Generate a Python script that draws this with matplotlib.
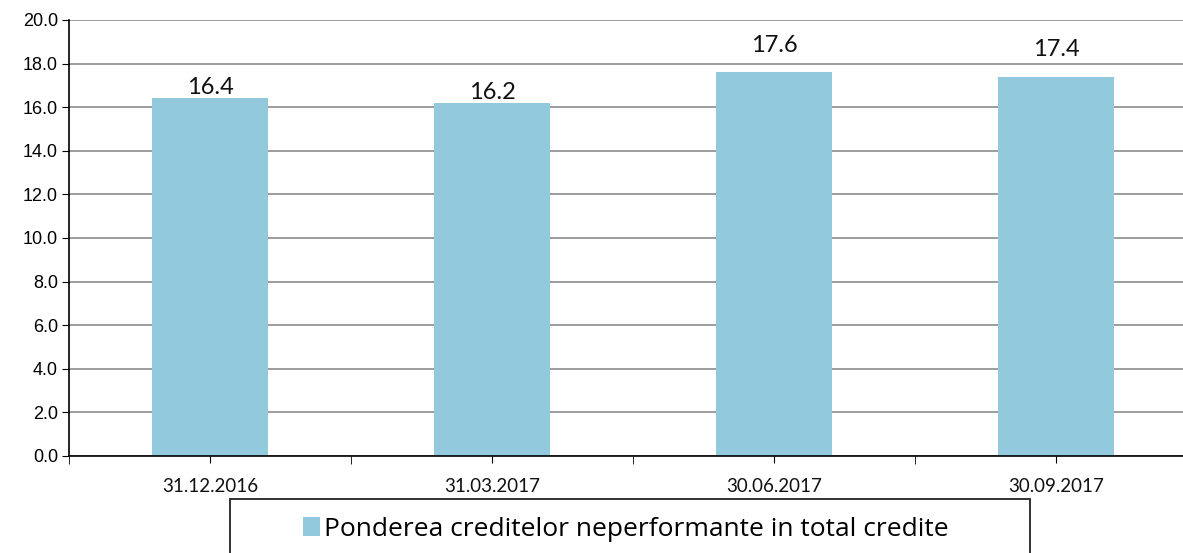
import numpy as np
import matplotlib.pyplot as plt
from matplotlib.patches import Rectangle

dates = ['31.12.2016', '31.03.2017', '30.06.2017', '30.09.2017']
npl_share = [16.4, 16.2, 17.6, 17.4]   # % credite neperformante
label_lift = [0, 0, 12, 12]            # label offset above bar, points

W, H = 1183, 553
fig = plt.figure(figsize=(W/100, H/100), dpi=100)
ax = fig.add_axes([69/W, 97/H, 1128/W, 436/H])

x = np.arange(len(dates))
bars = ax.bar(x, npl_share, width=0.41, color='#92C9DC',
              label='Ponderea creditelor neperformante in total credite', zorder=2)

for xi, v, lift in zip(x, npl_share, label_lift):
    ax.annotate(f'{v:.1f}', (xi, v), xytext=(0, lift), textcoords='offset points',
                ha='center', va='bottom', fontsize=17, family='Lato', color='#111111')

ax.set_xlim(-0.5, len(dates) - 0.5)
ax.set_ylim(0, 20)
ax.set_yticks(np.arange(0, 20.1, 2))
ax.set_yticklabels([f'{t:.1f}' for t in np.arange(0, 20.1, 2)],
                   family='Liberation Sans', fontsize=13)
ax.set_xticks(x)
ax.set_xticklabels(dates, family='Lato', fontsize=13.5, color='#111111')
ax.set_xticks(np.arange(-0.5, len(dates), 1), minor=True)
ax.tick_params(axis='x', which='major', length=5, pad=11)
ax.tick_params(axis='x', which='minor', length=6)
ax.tick_params(axis='y', length=5, pad=3)

ax.grid(axis='y', color='#8c8c8c', linewidth=1.2, zorder=0)
ax.spines['top'].set_visible(False)
ax.spines['right'].set_visible(False)
ax.spines['left'].set_linewidth(1.2)
ax.spines['bottom'].set_linewidth(1.2)

# legend box runs off the bottom edge of the picture
fig.patches.append(Rectangle((230/W, -0.05), 800/W, 0.05 + 54/H, transform=fig.transFigure,
                             fill=False, edgecolor='#222222', linewidth=1.3))
fig.legend(loc='center left', bbox_to_anchor=(303/W, 24/H), frameon=False,
           prop={'family': 'Open Sans', 'size': 19}, handlelength=0.65, handleheight=0.75,
           handletextpad=0.15, borderaxespad=0, borderpad=0)

fig.savefig('out.png', dpi=100)
